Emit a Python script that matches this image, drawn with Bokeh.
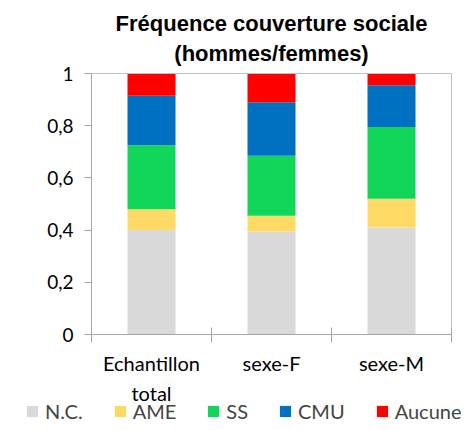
from bokeh.plotting import figure
from bokeh.models import ColumnDataSource, FixedTicker, Legend, LegendItem, Range1d, Label
from bokeh.embed import file_html
from bokeh.resources import INLINE

categories = ["Echantillon\ntotal", "sexe-F", "sexe-M"]
series = ["N.C.", "AME", "SS", "CMU", "Aucune"]
nc = [0.40, 0.395, 0.41]
ame = [0.08, 0.06, 0.11]
ss = [0.245, 0.23, 0.275]
cmu = [0.19, 0.205, 0.16]
aucune = [0.085, 0.11, 0.045]
colors = ["#D9D9D9", "#FFD966", "#12D65A", "#0070C0", "#FF0000"]
y_ticks = [0, 0.2, 0.4, 0.6, 0.8, 1]
y_labels = ["0", "0,2", "0,4", "0,6", "0,8", "1"]
title_lines = ["Fréquence couverture sociale", "(hommes/femmes)"]

W, H = 469, 430
# plot area placement in pixels
left_px, right_px, top_px, bottom_px = 91, 451, 73, 334
n = len(categories)
sx = (right_px - left_px) / n
sy = (bottom_px - top_px) / 1.0
x0 = -left_px / sx
x1 = x0 + W / sx
y1 = 1 + top_px / sy
y0 = -(H - bottom_px) / sy

xs = [i + 0.5 for i in range(n)]
source = ColumnDataSource(dict(x=xs, **dict(zip(series, [nc, ame, ss, cmu, aucune]))))

p = figure(width=W, height=H, output_backend="svg", toolbar_location=None,
           x_range=Range1d(x0, x1), y_range=Range1d(y0, y1),
           min_border=0, min_border_left=0, min_border_right=0,
           min_border_top=0, min_border_bottom=0)
p.outline_line_color = None
p.xgrid.visible = False
p.ygrid.visible = False

renderers = p.vbar_stack(series, x="x", width=0.4, color=colors, source=source, line_color=None)

# plot-area border (top and right)
p.segment(x0=[0, n], y0=[1, 0], x1=[n, n], y1=[1, 1], line_color="#BFBFBF", line_width=1)

# title
for i, t in enumerate(title_lines):
    p.add_layout(Label(x=n / 2, y=y1 - (23 + 30 * i) / sy, text=t, text_align="center",
                       text_baseline="middle", text_font="Liberation Sans",
                       text_font_size="22px", text_font_style="bold", text_color="#000000"))

xa = p.xaxis[0]
xa.fixed_location = 0
xa.bounds = (0, n)
xa.ticker = FixedTicker(ticks=xs, minor_ticks=list(range(n + 1)))
xa.major_label_overrides = {x: c for x, c in zip(xs, categories)}
xa.major_tick_line_color = None
xa.major_tick_in = 0
xa.major_tick_out = 0
xa.minor_tick_in = 7
xa.minor_tick_out = 8
xa.minor_tick_line_color = "#A6A6A6"
xa.axis_line_color = "#A6A6A6"
xa.major_label_standoff = 8
xa.major_label_text_font = "Lato"
xa.major_label_text_font_size = "20px"
xa.major_label_text_line_height = 1.25
xa.major_label_text_color = "#000000"

ya = p.yaxis[0]
ya.fixed_location = 0
ya.bounds = (0, 1)
ya.ticker = FixedTicker(ticks=y_ticks, minor_ticks=[])
ya.major_label_overrides = {t: l for t, l in zip(y_ticks, y_labels)}
ya.major_tick_in = 0
ya.major_tick_out = 7
ya.major_tick_line_color = "#A6A6A6"
ya.axis_line_color = "#A6A6A6"
ya.major_label_standoff = 11
ya.major_label_text_font = "Lato"
ya.major_label_text_font_size = "19px"
ya.major_label_text_color = "#000000"

legend = Legend(items=[LegendItem(label=s, renderers=[r]) for s, r in zip(series, renderers)],
                orientation="horizontal", location=(25, 7),
                label_text_font="Lato", label_text_font_size="20px",
                label_height=16,
                glyph_width=14, glyph_height=14, spacing=30, label_standoff=6,
                border_line_color=None, background_fill_alpha=0, padding=0, margin=0)
p.add_layout(legend, "center")

open("out.html", "w").write(file_html(p, INLINE))
